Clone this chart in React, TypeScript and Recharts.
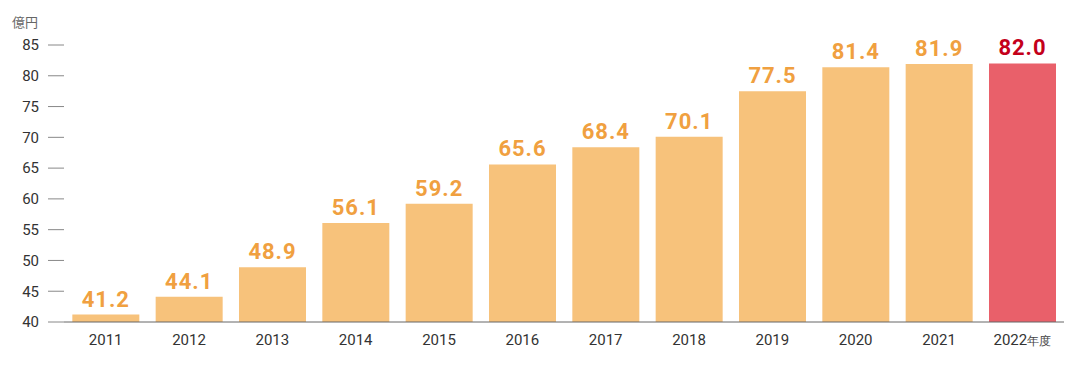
import React from "react";
import { BarChart, Bar, XAxis, YAxis, Cell, LabelList } from "recharts";

const years = ["2011", "2012", "2013", "2014", "2015", "2016", "2017", "2018", "2019", "2020", "2021", "2022"];
const sales = [41.2, 44.1, 48.9, 56.1, 59.2, 65.6, 68.4, 70.1, 77.5, 81.4, 81.9, 82.0];
const yTicks = [40, 45, 50, 55, 60, 65, 70, 75, 80, 85];

const data = years.map((y, i) => ({ year: y, value: sales[i] }));
const lastIndex = years.length - 1;

const XTick = (props: any) => {
  const { x, y, payload, index } = props;
  const isLast = index === lastIndex;
  return (
    <text x={x} y={y + 15} textAnchor="middle" fill="#333" fontSize={15} fontFamily="Roboto">
      {payload.value}
      {isLast && <tspan fontSize={12} fill="#444">年度</tspan>}
    </text>
  );
};

const ValueLabel = (props: any) => {
  const { x, y, width, value, index } = props;
  const isLast = index === lastIndex;
  return (
    <text
      x={x + width / 2}
      y={y - 8}
      textAnchor="middle"
      fill={isLast ? "#C4001A" : "#F0A040"}
      fontSize={22}
      fontWeight={700}
      fontFamily="Roboto"
      letterSpacing={1}
    >
      {value.toFixed(1)}
    </text>
  );
};

export default function App() {
  return (
    <div style={{ position: "absolute", left: 0, top: 0, width: 1080, height: 368, background: "#fff" }}>
      <BarChart
        width={1080}
        height={368}
        data={data}
        margin={{ top: 45, right: 16, bottom: 16, left: 1 }}
        barCategoryGap="10%"
      >
        <text x={12} y={27} fontSize={13} fill="#666" fontFamily="'Noto Sans CJK JP'">億円</text>
        <XAxis
          dataKey="year"
          height={30}
          tick={<XTick />}
          tickLine={false}
          axisLine={{ stroke: "#666", strokeWidth: 1 }}
          interval={0}
        />
        <YAxis
          width={63}
          domain={[40, 85]}
          ticks={yTicks}
          axisLine={false}
          tickSize={16}
          tickMargin={9}
          tickLine={{ stroke: "#888" }}
          tick={{ fill: "#333", fontSize: 15, fontFamily: "Roboto" }}
          allowDataOverflow
        />
        <Bar dataKey="value" isAnimationActive={false}>
          {data.map((d, i) => (
            <Cell key={d.year} fill={i === lastIndex ? "#E9606A" : "#F7C27B"} />
          ))}
          <LabelList dataKey="value" content={<ValueLabel />} />
        </Bar>
      </BarChart>
    </div>
  );
}
